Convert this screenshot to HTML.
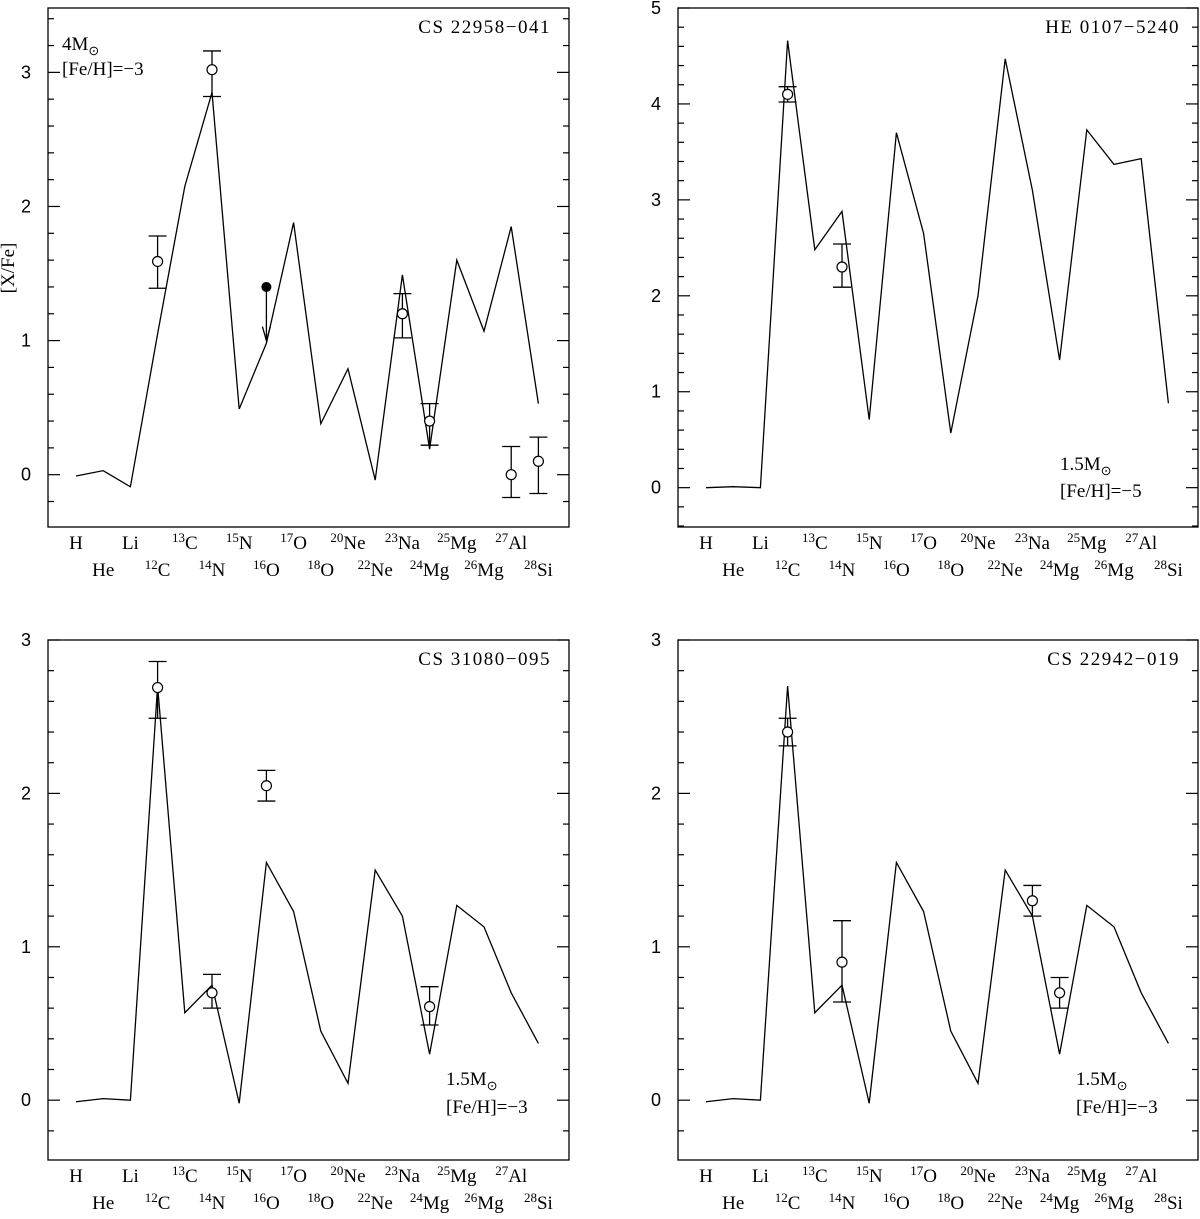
<!DOCTYPE html>
<html><head><meta charset="utf-8"><style>
body{margin:0;background:#fff}
svg{display:block}
.lab{font-family:"Liberation Serif",serif;font-size:19px;fill:#000}
.num{font-family:"Liberation Sans",sans-serif;font-size:18px;fill:#000}
</style></head><body>
<svg id="fig" width="1200" height="1219" viewBox="0 0 1200 1219"></svg>
<script>
const categories=["H","He","Li","12C","13C","14N","15N","16O","17O","18O","20Ne","22Ne","23Na","24Mg","25Mg","26Mg","27Al","28Si"];
const lineTL=[-0.01,0.03,-0.09,1.05,2.15,2.85,0.49,0.98,1.88,0.38,0.79,-0.04,1.49,0.19,1.6,1.07,1.85,0.53];
const lineTR=[0,0.01,0,4.66,2.48,2.88,0.71,3.7,2.65,0.57,2.0,4.47,3.1,1.33,3.73,3.37,3.43,0.88];
const lineBL=[-0.01,0.01,0,2.7,0.57,0.75,-0.02,1.55,1.23,0.45,0.11,1.5,1.2,0.3,1.27,1.13,0.7,0.37];
const lineBR=[-0.01,0.01,0,2.7,0.57,0.75,-0.02,1.55,1.23,0.45,0.11,1.5,1.2,0.3,1.27,1.13,0.7,0.37];
// observed points: [category index, value, low, high]
const obsTL=[[3,1.59,1.39,1.78],[5,3.02,2.82,3.16],[12,1.2,1.02,1.35],[13,0.4,0.22,0.53],[16,0.0,-0.17,0.21],[17,0.1,-0.14,0.28]];
const limitTL=[[7,1.4,1.0]];
const obsTR=[[3,4.1,4.02,4.18],[5,2.3,2.09,2.54]];
const obsBL=[[3,2.69,2.49,2.86],[5,0.7,0.6,0.82],[7,2.05,1.95,2.15],[13,0.61,0.49,0.74]];
const obsBR=[[3,2.4,2.31,2.49],[5,0.9,0.64,1.17],[12,1.3,1.2,1.4],[13,0.7,0.6,0.8]];
const yTicksTL=[0,1,2,3], yTicksTR=[0,1,2,3,4,5], yTicksB=[0,1,2,3];

const NS="http://www.w3.org/2000/svg";
const fig=document.getElementById('fig');
function mk(tag,attrs,parent,text){const e=document.createElementNS(NS,tag);for(const k in attrs)e.setAttribute(k,attrs[k]);if(text!==undefined)e.textContent=text;(parent||fig).appendChild(e);return e;}

function panel(id,x0,x1,y0,y1,ymin,ymax,yt,line,obs,limits,title,notes){
  const g=mk('g',{});
  
  
  const xs=i=>x0+28+i*27.2;
  const ys=v=>y1-(v-ymin)/(ymax-ymin)*(y1-y0);
  const fr=mk('rect',{x:x0,y:y0,width:x1-x0,height:y1-y0,fill:'none',stroke:'#000','stroke-width':1.3},g);
  
  
  for(let v=Math.ceil(ymin*5)/5;v<=ymax+1e-6;v+=0.2){
    const vv=Math.round(v*5)/5;const maj=Math.abs(vv-Math.round(vv))<1e-6;const L=maj?12:6;const y=ys(vv);
    mk('line',{x1:x0,x2:x0+L,y1:y,y2:y,stroke:'#000','stroke-width':1.2},g);
    mk('line',{x1:x1,x2:x1-L,y1:y,y2:y,stroke:'#000','stroke-width':1.2},g);
  }
  yt.forEach(v=>{const t=mk('text',{x:x0-17,y:ys(v)+6,'text-anchor':'end',class:'num'},g,String(v));
    
    });
  categories.forEach((c,i)=>{
    const m=c.match(/^(\d+)(.*)$/);const row=y1+(i%2===0?22:49);
    const t=mk('text',{x:xs(i),y:row,'text-anchor':'middle',class:'lab'},g);
    
    
    if(m){mk('tspan',{'font-size':'13','dy':'-7'},t,m[1]);mk('tspan',{'dy':'7'},t,m[2]);}else t.textContent=c;
  });
  const p=mk('polyline',{points:line.map((v,i)=>xs(i)+','+ys(v)).join(' '),fill:'none',stroke:'#000','stroke-width':1.3},g);
  
  
  obs.forEach(o=>{
    const x=xs(o[0]);
    const eg=mk('g',{},g);
    
    
    mk('line',{x1:x,x2:x,y1:ys(o[2]),y2:ys(o[3]),stroke:'#000','stroke-width':1.3},eg);
    mk('line',{x1:x-9,x2:x+9,y1:ys(o[2]),y2:ys(o[2]),stroke:'#000','stroke-width':1.3},eg);
    mk('line',{x1:x-9,x2:x+9,y1:ys(o[3]),y2:ys(o[3]),stroke:'#000','stroke-width':1.3},eg);
    mk('circle',{cx:x,cy:ys(o[1]),r:5,fill:'#fff',stroke:'#000','stroke-width':1.2},eg);
  });
  (limits||[]).forEach(o=>{
    const x=xs(o[0]);
    const eg=mk('g',{},g);
    
    
    mk('line',{x1:x,x2:x,y1:ys(o[1]),y2:ys(o[2]),stroke:'#000','stroke-width':1.3},eg);
    mk('polyline',{points:`${x-4},${ys(o[2])-14} ${x},${ys(o[2])} ${x+4},${ys(o[2])-14}`,fill:'none',stroke:'#000','stroke-width':1.3},eg);
    mk('circle',{cx:x,cy:ys(o[1]),r:5,fill:'#000'},eg);
  });
  const tt=mk('text',{x:x1-18,y:y0+25,'text-anchor':'end',class:'lab','font-size':'21','letter-spacing':'1.5'},g,title);
  
  
  notes.forEach(n=>{
    const t=mk('text',{x:n.x,y:n.y,class:'lab'},g);
    
    
    if(n.sun){t.textContent=n.t;mk('tspan',{'font-size':'13','dy':'5'},t,'\u2299');}else t.textContent=n.t;
  });
}
panel('panel-cs22958',48,569,8,527,-0.39,3.48,yTicksTL,lineTL,obsTL,limitTL,'CS 22958\u2212041',
  [{x:62,y:50,t:'4M',sun:1},{x:62,y:75,t:'[Fe/H]=\u22123'}]);
panel('panel-he0107',678,1198,8,527,-0.41,5.0,yTicksTR,lineTR,obsTR,[],'HE 0107\u22125240',
  [{x:1060,y:470,t:'1.5M',sun:1},{x:1060,y:497,t:'[Fe/H]=\u22125'}]);
panel('panel-cs31080',48,569,640,1160,-0.39,3.0,yTicksB,lineBL,obsBL,[],'CS 31080\u2212095',
  [{x:446,y:1085,t:'1.5M',sun:1},{x:446,y:1113,t:'[Fe/H]=\u22123'}]);
panel('panel-cs22942',678,1198,640,1160,-0.39,3.0,yTicksB,lineBR,obsBR,[],'CS 22942\u2212019',
  [{x:1076,y:1085,t:'1.5M',sun:1},{x:1076,y:1113,t:'[Fe/H]=\u22123'}]);
const yl=mk('text',{x:14,y:268,'text-anchor':'middle',class:'lab',transform:'rotate(-90 14 268)','font-size':'14'},fig,'[X/Fe]');


</script>
</body></html>
